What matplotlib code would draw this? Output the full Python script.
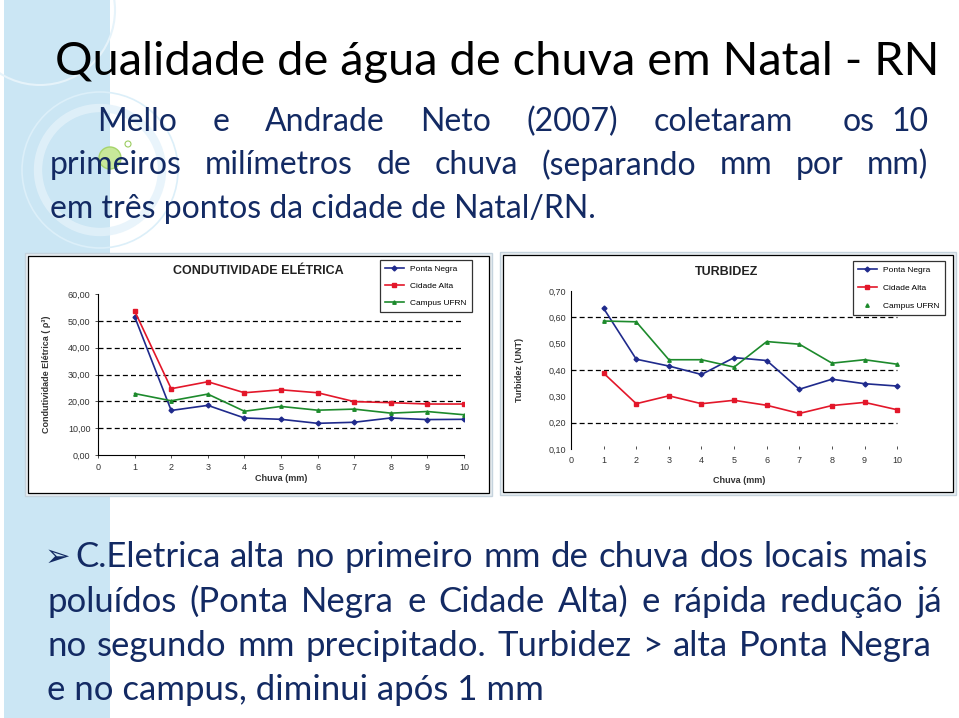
import matplotlib
matplotlib.use('Agg')
import matplotlib.pyplot as plt
from matplotlib.patches import Rectangle, Circle
from matplotlib.lines import Line2D
from matplotlib.ticker import FuncFormatter

# dados
chuva = [1, 2, 3, 4, 5, 6, 7, 8, 9, 10]
series = ['Ponta Negra', 'Cidade Alta', 'Campus UFRN']

ce_ponta_negra = [51.6, 16.6, 18.5, 13.8, 13.3, 11.8, 12.2, 13.8, 13.2, 13.3]
ce_cidade_alta = [53.7, 24.7, 27.3, 23.2, 24.3, 23.2, 19.9, 19.5, 19.0, 19.0]
ce_campus = [22.9, 20.2, 22.7, 16.3, 18.1, 16.7, 17.1, 15.6, 16.2, 15.0]

tb_ponta_negra = [0.634, 0.441, 0.415, 0.383, 0.447, 0.436, 0.327, 0.365, 0.348, 0.339]
tb_cidade_alta = [0.388, 0.272, 0.302, 0.272, 0.285, 0.266, 0.235, 0.265, 0.277, 0.249]
tb_campus = [0.586, 0.583, 0.439, 0.439, 0.411, 0.508, 0.498, 0.426, 0.439, 0.422]

ce_yticks = [0, 10, 20, 30, 40, 50, 60]
tb_yticks = [0.10, 0.20, 0.30, 0.40, 0.50, 0.60, 0.70]

titulo = 'Qualidade de água de chuva em Natal - RN'
paragrafo = ['Mello e Andrade Neto (2007) coletaram os 10',
             'primeiros milímetros de chuva (separando mm por mm)',
             'em três pontos da cidade de Natal/RN.']
conclusao = ['C.Eletrica alta no primeiro mm de chuva dos locais mais',
             'poluídos (Ponta Negra e Cidade Alta) e rápida redução já',
             'no segundo mm precipitado. Turbidez > alta Ponta Negra',
             'e no campus, diminui após 1 mm']

cores = ['#1f2a8c', '#e3172a', '#1d8a2c']
marcadores = ['D', 's', '^']

W, H = 959, 718
fig = plt.figure(figsize=(W / 100, H / 100), dpi=100)
fig.patch.set_facecolor('white')


def fx(x):
    return x / W


def fy(y):
    return 1 - y / H


# faixa azul e circulos decorativos
fig.patches.append(Rectangle((fx(4), 0), fx(106), 1, transform=fig.transFigure,
                             facecolor='#cbe6f4', edgecolor='none', zorder=0))
deco = fig.add_axes([0, 0, 1, 1], zorder=0.5)
deco.set_xlim(0, W)
deco.set_ylim(H, 0)
deco.axis('off')
deco.add_patch(Circle((40, 10), 75, fill=False, ec='#e6f3fa', lw=1.5))
deco.add_patch(Circle((100, 170), 62, fill=False, ec='#e4f2fa', lw=6, alpha=0.8))
deco.add_patch(Circle((100, 170), 78, fill=False, ec='#dceff9', lw=1.2))
deco.add_patch(Circle((110, 158), 11, fc='#c8e89a', ec='#a6d46a', lw=1))
deco.add_patch(Circle((128, 144), 3, fc='none', ec='#9bcc60', lw=0.8))

renderer = fig.canvas.get_renderer()


def linha(texto, x0, y, x1=None, **kw):
    # escreve uma linha, justificada entre x0 e x1 se x1 for dado
    if x1 is None:
        fig.text(fx(x0), fy(y), texto, va='center', ha='left', **kw)
        return
    palavras = texto.split()
    ts = [fig.text(0, fy(y), p, va='center', ha='left', **kw) for p in palavras]
    larg = [t.get_window_extent(renderer).width for t in ts]
    gap = (x1 - x0 - sum(larg)) / (len(ts) - 1)
    x = x0
    for t, w in zip(ts, larg):
        t.set_x(fx(x))
        x += w + gap


fonte = ['Lato', 'DejaVu Sans']
azul = '#132a63'

# titulo ajustado a largura do original
t = fig.text(fx(55), fy(62), titulo, va='center', ha='left', fontsize=30,
             color='black', family=fonte)
t.set_fontsize(30 * 885 / t.get_window_extent(renderer).width)

p0 = paragrafo[0].split()
linha(' '.join(p0[:-2]), 97, 122, 793, fontsize=23, color=azul, family=fonte)
linha(' '.join(p0[-2:]), 843, 122, 928, fontsize=23, color=azul, family=fonte)
linha(paragrafo[1], 50, 165, 928, fontsize=23, color=azul, family=fonte)
linha(paragrafo[2], 50, 209, fontsize=23, color=azul, family=fonte)

fig.text(fx(45), fy(557), '➢', va='center', ha='left', fontsize=22, color=azul,
         family=['DejaVu Sans'])
linha(conclusao[0], 75, 557, 928, fontsize=25, color=azul, family=fonte)
linha(conclusao[1], 47, 602, 942, fontsize=25, color=azul, family=fonte)
linha(conclusao[2], 47, 646, 932, fontsize=25, color=azul, family=fonte)
linha(conclusao[3], 47, 690, fontsize=25, color=azul, family=fonte)

# molduras dos graficos
for x0, y0, x1, y1 in [(28, 256, 489, 493), (503, 255, 953, 492)]:
    fig.patches.append(Rectangle((fx(x0 - 3), fy(y1 + 3)), fx(x1 - x0 + 6), (y1 - y0 + 6) / H,
                                 transform=fig.transFigure, facecolor='#e9eef2',
                                 edgecolor='#c5d3dd', lw=1, zorder=1))
    fig.patches.append(Rectangle((fx(x0), fy(y1)), fx(x1 - x0), (y1 - y0) / H,
                                 transform=fig.transFigure, facecolor='white',
                                 edgecolor='black', lw=0.9, zorder=1.1))

arial = 'Liberation Sans'
cinza = '#333333'
virgula = FuncFormatter(lambda v, p: ('%.2f' % v).replace('.', ','))

# grafico 1 - condutividade
ax1 = fig.add_axes([fx(98), fy(455), fx(366), 161 / H], zorder=2)
ax1.patch.set_alpha(0)
for vals, c, m, nome in zip([ce_ponta_negra, ce_cidade_alta, ce_campus], cores, marcadores, series):
    ax1.plot(chuva, vals, color=c, marker=m, markersize=2.5, lw=1.2, label=nome)
ax1.set_xlim(0, 10)
ax1.set_ylim(0, 60)
ax1.set_xticks(range(0, 11))
ax1.set_yticks(ce_yticks)
ax1.yaxis.set_major_formatter(virgula)
for g in [10, 20, 30, 40, 50]:
    ax1.axhline(g, color='black', lw=0.9, ls=(0, (4, 2.5)), zorder=0)
for s in ['top', 'right']:
    ax1.spines[s].set_visible(False)
ax1.tick_params(labelsize=6.5, colors=cinza, length=2, width=0.6)
ax1.set_xlabel('Chuva (mm)', fontsize=6.5, fontweight='bold', color=cinza, family=arial, labelpad=2)
ax1.set_ylabel('Condutividade Elétrica ( ρ³)', fontsize=6.5, fontweight='bold', color=cinza,
               family=arial, labelpad=12)
for lab in ax1.get_xticklabels() + ax1.get_yticklabels():
    lab.set_family(arial)
fig.text(fx(258), fy(271), 'CONDUTIVIDADE ELÉTRICA', ha='center', va='center',
         fontsize=9, fontweight='bold', color='#222222', family=arial, zorder=3)
leg1 = ax1.legend(loc='upper left', bbox_to_anchor=(fx(376), fy(256)),
                  bbox_transform=fig.transFigure, frameon=True,
                  fancybox=False, edgecolor='black', handlelength=2.2,
                  labelspacing=1.1, borderpad=0.6, prop={'family': arial, 'size': 6})
leg1.get_frame().set_linewidth(0.9)

# grafico 2 - turbidez
ax2 = fig.add_axes([fx(571), fy(449), fx(336), 158 / H], zorder=2)
ax2.patch.set_alpha(0)
estilos = ['-', '-', 'none']
for vals, c, m in zip([tb_ponta_negra, tb_cidade_alta, tb_campus], cores, marcadores):
    ax2.plot(chuva, vals, color=c, marker=m, markersize=2.5, lw=1.2)
handles = [Line2D([], [], color=c, marker=m, markersize=2.5, lw=1.2, ls=ls)
           for c, m, ls in zip(cores, marcadores, estilos)]
ax2.set_xlim(0, 10.3)
ax2.set_ylim(0.1, 0.7)
ax2.set_xticks(range(0, 11))
ax2.set_yticks(tb_yticks)
ax2.yaxis.set_major_formatter(virgula)
for g in [0.2, 0.4, 0.6]:
    ax2.axhline(g, xmin=0, xmax=10.0 / 10.3, color='black', lw=0.9, ls=(0, (4, 2.5)), zorder=0)
for s in ['top', 'right', 'bottom']:
    ax2.spines[s].set_visible(False)
ax2.spines['left'].set_bounds(0.1, 0.7)
ax2.tick_params(axis='y', length=0)
ax2.tick_params(axis='x', length=2, width=0.6, direction='in', pad=5)
ax2.tick_params(labelsize=6.5, colors=cinza)
ax2.set_xlabel('Chuva (mm)', fontsize=6.5, fontweight='bold', color=cinza, family=arial, labelpad=8)
ax2.set_ylabel('Turbidez (UNT)', fontsize=6.5, fontweight='bold', color=cinza, family=arial, labelpad=18)
for lab in ax2.get_xticklabels() + ax2.get_yticklabels():
    lab.set_family(arial)
fig.text(fx(727), fy(272), 'TURBIDEZ', ha='center', va='center',
         fontsize=9, fontweight='bold', color='#222222', family=arial, zorder=3)
leg2 = ax2.legend(handles, series, loc='upper left', bbox_to_anchor=(fx(849), fy(257)),
                  bbox_transform=fig.transFigure, frameon=True, fancybox=False,
                  edgecolor='black', handlelength=2.2, labelspacing=1.2, borderpad=0.6,
                  prop={'family': arial, 'size': 6})
leg2.get_frame().set_linewidth(0.9)

fig.savefig('out.png', dpi=100)
